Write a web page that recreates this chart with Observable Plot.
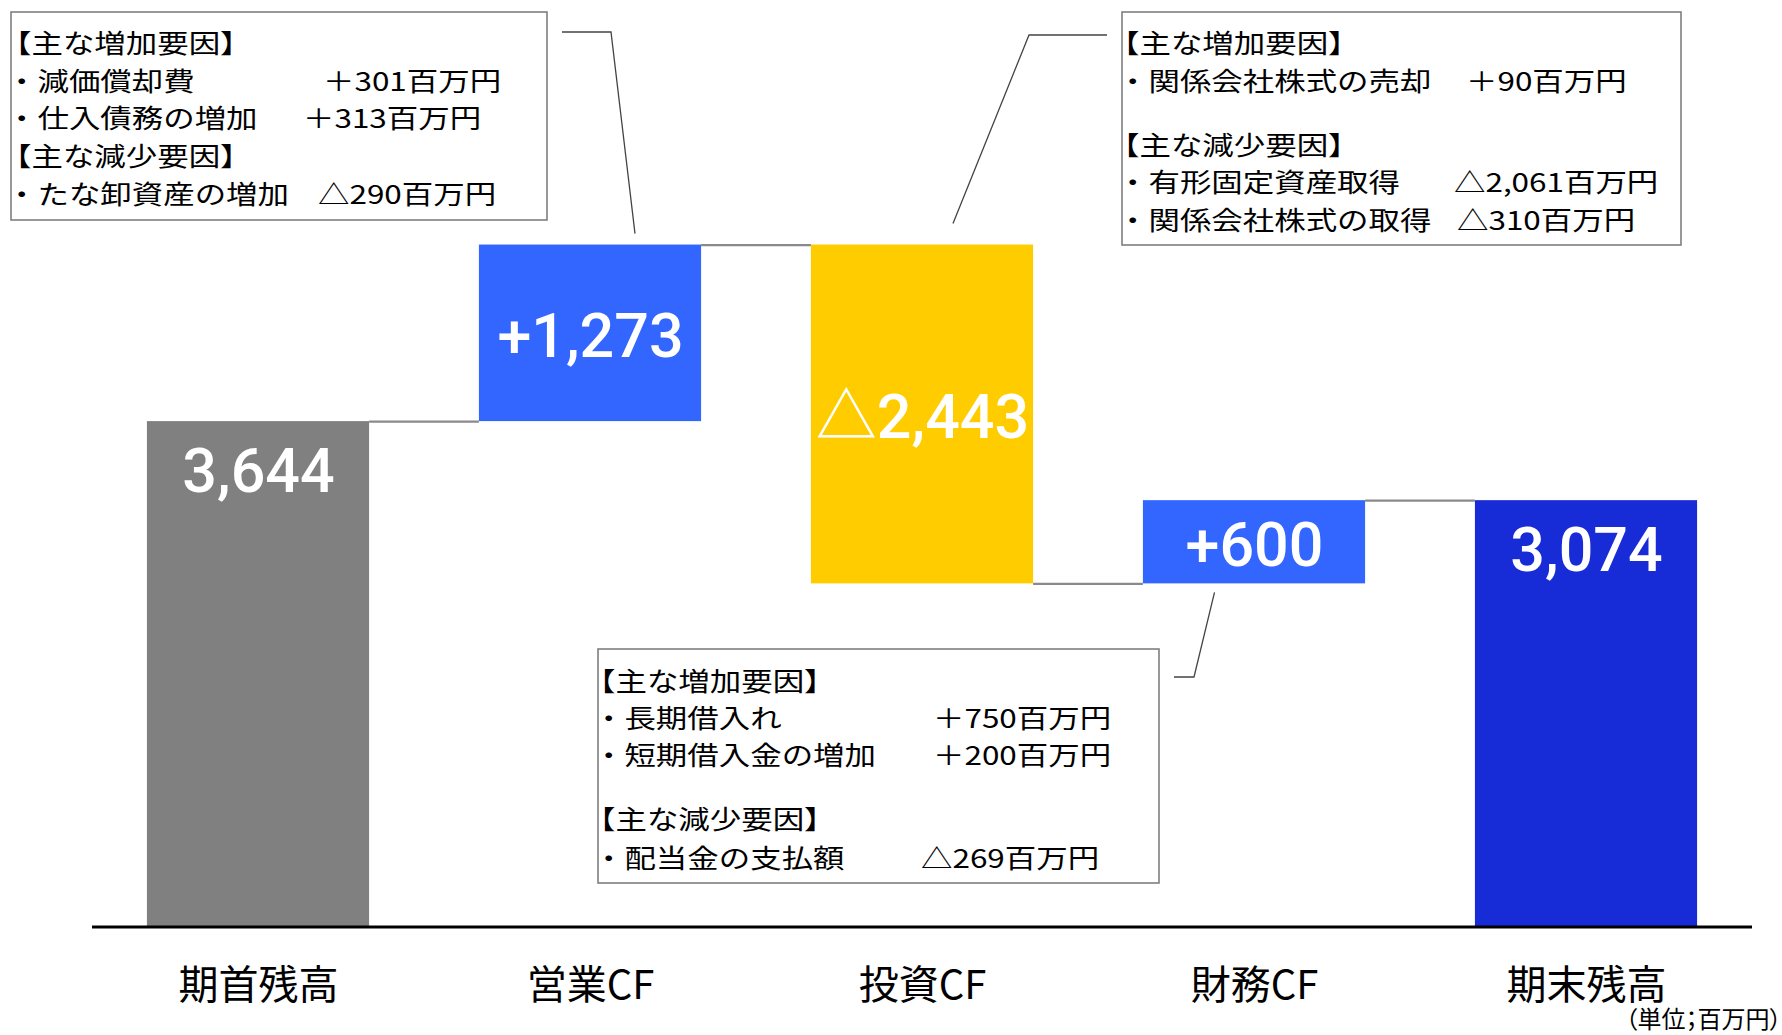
<!DOCTYPE html>
<html><head><meta charset="utf-8">
<script src="https://cdn.jsdelivr.net/npm/d3@7"></script>
<script src="https://cdn.jsdelivr.net/npm/@observablehq/plot@0.6"></script>
<style>
html,body{margin:0;padding:0;background:#fff;}
#chart{width:1782px;height:1035px;overflow:hidden;}
</style></head><body><div id="chart"></div>
<script>
// ---------- data ----------
const categories = ["期首残高", "営業CF", "投資CF", "財務CF", "期末残高"];
const values = [3644, 1273, -2443, 600, 3074];
const kinds = ["total", "delta", "delta", "delta", "total"];
const barColors = ["#808080", "#3366FF", "#FFCC00", "#3366FF", "#172BD6"];
const barLabels = ["3,644", "+1,273", "△2,443", "+600", "3,074"];
const unitLabel = "（単位；百万円）";

const noteOperatingText = ["【主な増加要因】", "・減価償却費", "・仕入債務の増加", "【主な減少要因】", "・たな卸資産の増加"];
const noteOperatingValue = [null, "＋301百万円", "＋313百万円", null, "△290百万円"];
const noteInvestingText = ["【主な増加要因】", "・関係会社株式の売却", "【主な減少要因】", "・有形固定資産取得", "・関係会社株式の取得"];
const noteInvestingValue = [null, "＋90百万円", null, "△2,061百万円", "△310百万円"];
const noteFinancingText = ["【主な増加要因】", "・長期借入れ", "・短期借入金の増加", "【主な減少要因】", "・配当金の支払額"];
const noteFinancingValue = [null, "＋750百万円", "＋200百万円", null, "△269百万円"];

// ---------- waterfall table ----------
let run = 0;
const bars = categories.map((c, i) => {
  let y1, y2;
  if (kinds[i] === "total") { y1 = 0; y2 = values[i]; run = values[i]; }
  else { y1 = run; y2 = run + values[i]; run = y2; }
  return {i, cat: c, y1, y2, lo: Math.min(y1, y2), hi: Math.max(y1, y2), kind: kinds[i], color: barColors[i], label: barLabels[i], level: run};
});
const connectors = bars.slice(0, -1).map((b, k) => ({from: b.i, to: bars[k + 1].i, level: b.level}));

const hw = 0.3346; // half bar width in band units
const numFont = "Roboto, 'Noto Sans CJK JP', sans-serif";
const jpFont = "'Noto Sans CJK JP', sans-serif";
const noteSize = 26;      // glyph height of the callout text
const noteStretch = 1.21; // the reference's gothic face is wider than tall

const chart = Plot.plot({
  width: 1782, height: 1035,
  marginLeft: 92, marginRight: 30, marginTop: 25, marginBottom: 108.5,
  x: {domain: [-0.5, 4.5], axis: null},
  y: {domain: [0, 6500], axis: null},
  color: {type: "identity"},
  style: {background: "#fff"},
  marks: [
    Plot.rect(bars, {x1: d => d.i - hw, x2: d => d.i + hw, y1: "lo", y2: "hi", fill: "color"}),
    Plot.ruleY(connectors, {x1: d => d.from + hw, x2: d => d.to - hw, y: "level", stroke: "#8a8a8a", strokeWidth: 2.2}),
    Plot.ruleY([0], {stroke: "#000", strokeWidth: 3}),
    Plot.text(bars.filter(d => d.kind === "total"), {x: "i", y: "hi", dy: 51, text: "label", fill: "#fff", fontSize: 61, fontWeight: 500, fontFamily: numFont, lineAnchor: "middle"}),
    Plot.text(bars.filter(d => d.kind === "delta"), {x: "i", y: d => (d.y1 + d.y2) / 2, dy: 4, text: "label", fill: "#fff", fontSize: 61, fontWeight: 500, fontFamily: numFont, lineAnchor: "middle"}),
    Plot.text(bars, {x: "i", y: 0, dy: 59, text: "cat", fill: "#000", fontSize: 40, fontFamily: jpFont, lineAnchor: "middle"}),
    Plot.text([unitLabel], {frameAnchor: "bottom-right", dx: 29, dy: 93, text: d => d, fill: "#000", fontSize: 24, fontFamily: jpFont, textAnchor: "end", lineAnchor: "middle"})
  ]
});
document.getElementById("chart").appendChild(chart);

const svg = d3.select(chart);
// proportional punctuation for the unit label, as in the reference
svg.selectAll("text").filter(function () { return this.textContent === unitLabel; })
  .style("font-feature-settings", "'palt'");

// ---------- annotation callouts (layout in pixels, anchored to bars via scales) ----------
const xs = chart.scale("x"), ys = chart.scale("y");
const notes = [
  {text: noteOperatingText, value: noteOperatingValue, box: [11, 12, 547, 220], rowY: [41, 79, 116, 154, 192],
   valueX: [null, 323, 303, null, 318], path: [[562, 32], [611, 32]], bar: 1, end: "hi", dx: 45, dy: -11},
  {text: noteInvestingText, value: noteInvestingValue, box: [1122, 12, 1681, 245], rowY: [41, 79, 143, 180, 218],
   valueX: [null, 1466, null, 1454, 1457], path: [[1107, 35], [1029, 35]], bar: 2, end: "hi", dx: 31, dy: -21},
  {text: noteFinancingText, value: noteFinancingValue, box: [598, 649, 1159, 883], rowY: [679, 716, 753, 817, 856],
   valueX: [null, 933, 933, null, 921], path: [[1174, 677], [1194, 677]], bar: 3, end: "lo", dx: -39.5, dy: 9}
];

const g = svg.append("g").attr("text-anchor", "start");
for (const n of notes) {
  const [x0, y0, x1, y1] = n.box;
  g.append("rect").attr("x", x0).attr("y", y0).attr("width", x1 - x0).attr("height", y1 - y0)
    .attr("fill", "#fff").attr("stroke", "#7f7f7f").attr("stroke-width", 1.6);
  const b = bars[n.bar];
  const endPt = [xs.apply(b.i) + n.dx, ys.apply(b[n.end]) + n.dy];
  g.append("path").attr("d", d3.line()([...n.path, endPt])).attr("fill", "none").attr("stroke", "#444").attr("stroke-width", 1.3);
  const t = g.append("text").attr("text-anchor", "start").attr("dominant-baseline", "central")
    .attr("transform", `scale(${noteStretch},1)`)
    .attr("font-family", jpFont).attr("font-size", noteSize).attr("fill", "#000");
  n.text.forEach((s, k) => {
    const header = s.startsWith("【");
    const tx = header ? Math.max(x0 - 14, 0) : x0 - 5;
    t.append("tspan").attr("x", tx / noteStretch).attr("y", n.rowY[k]).attr("dominant-baseline", "central").text(s);
    if (n.value[k]) t.append("tspan").attr("x", n.valueX[k] / noteStretch).attr("y", n.rowY[k]).attr("dominant-baseline", "central").text(n.value[k]);
  });
}
</script></body></html>
